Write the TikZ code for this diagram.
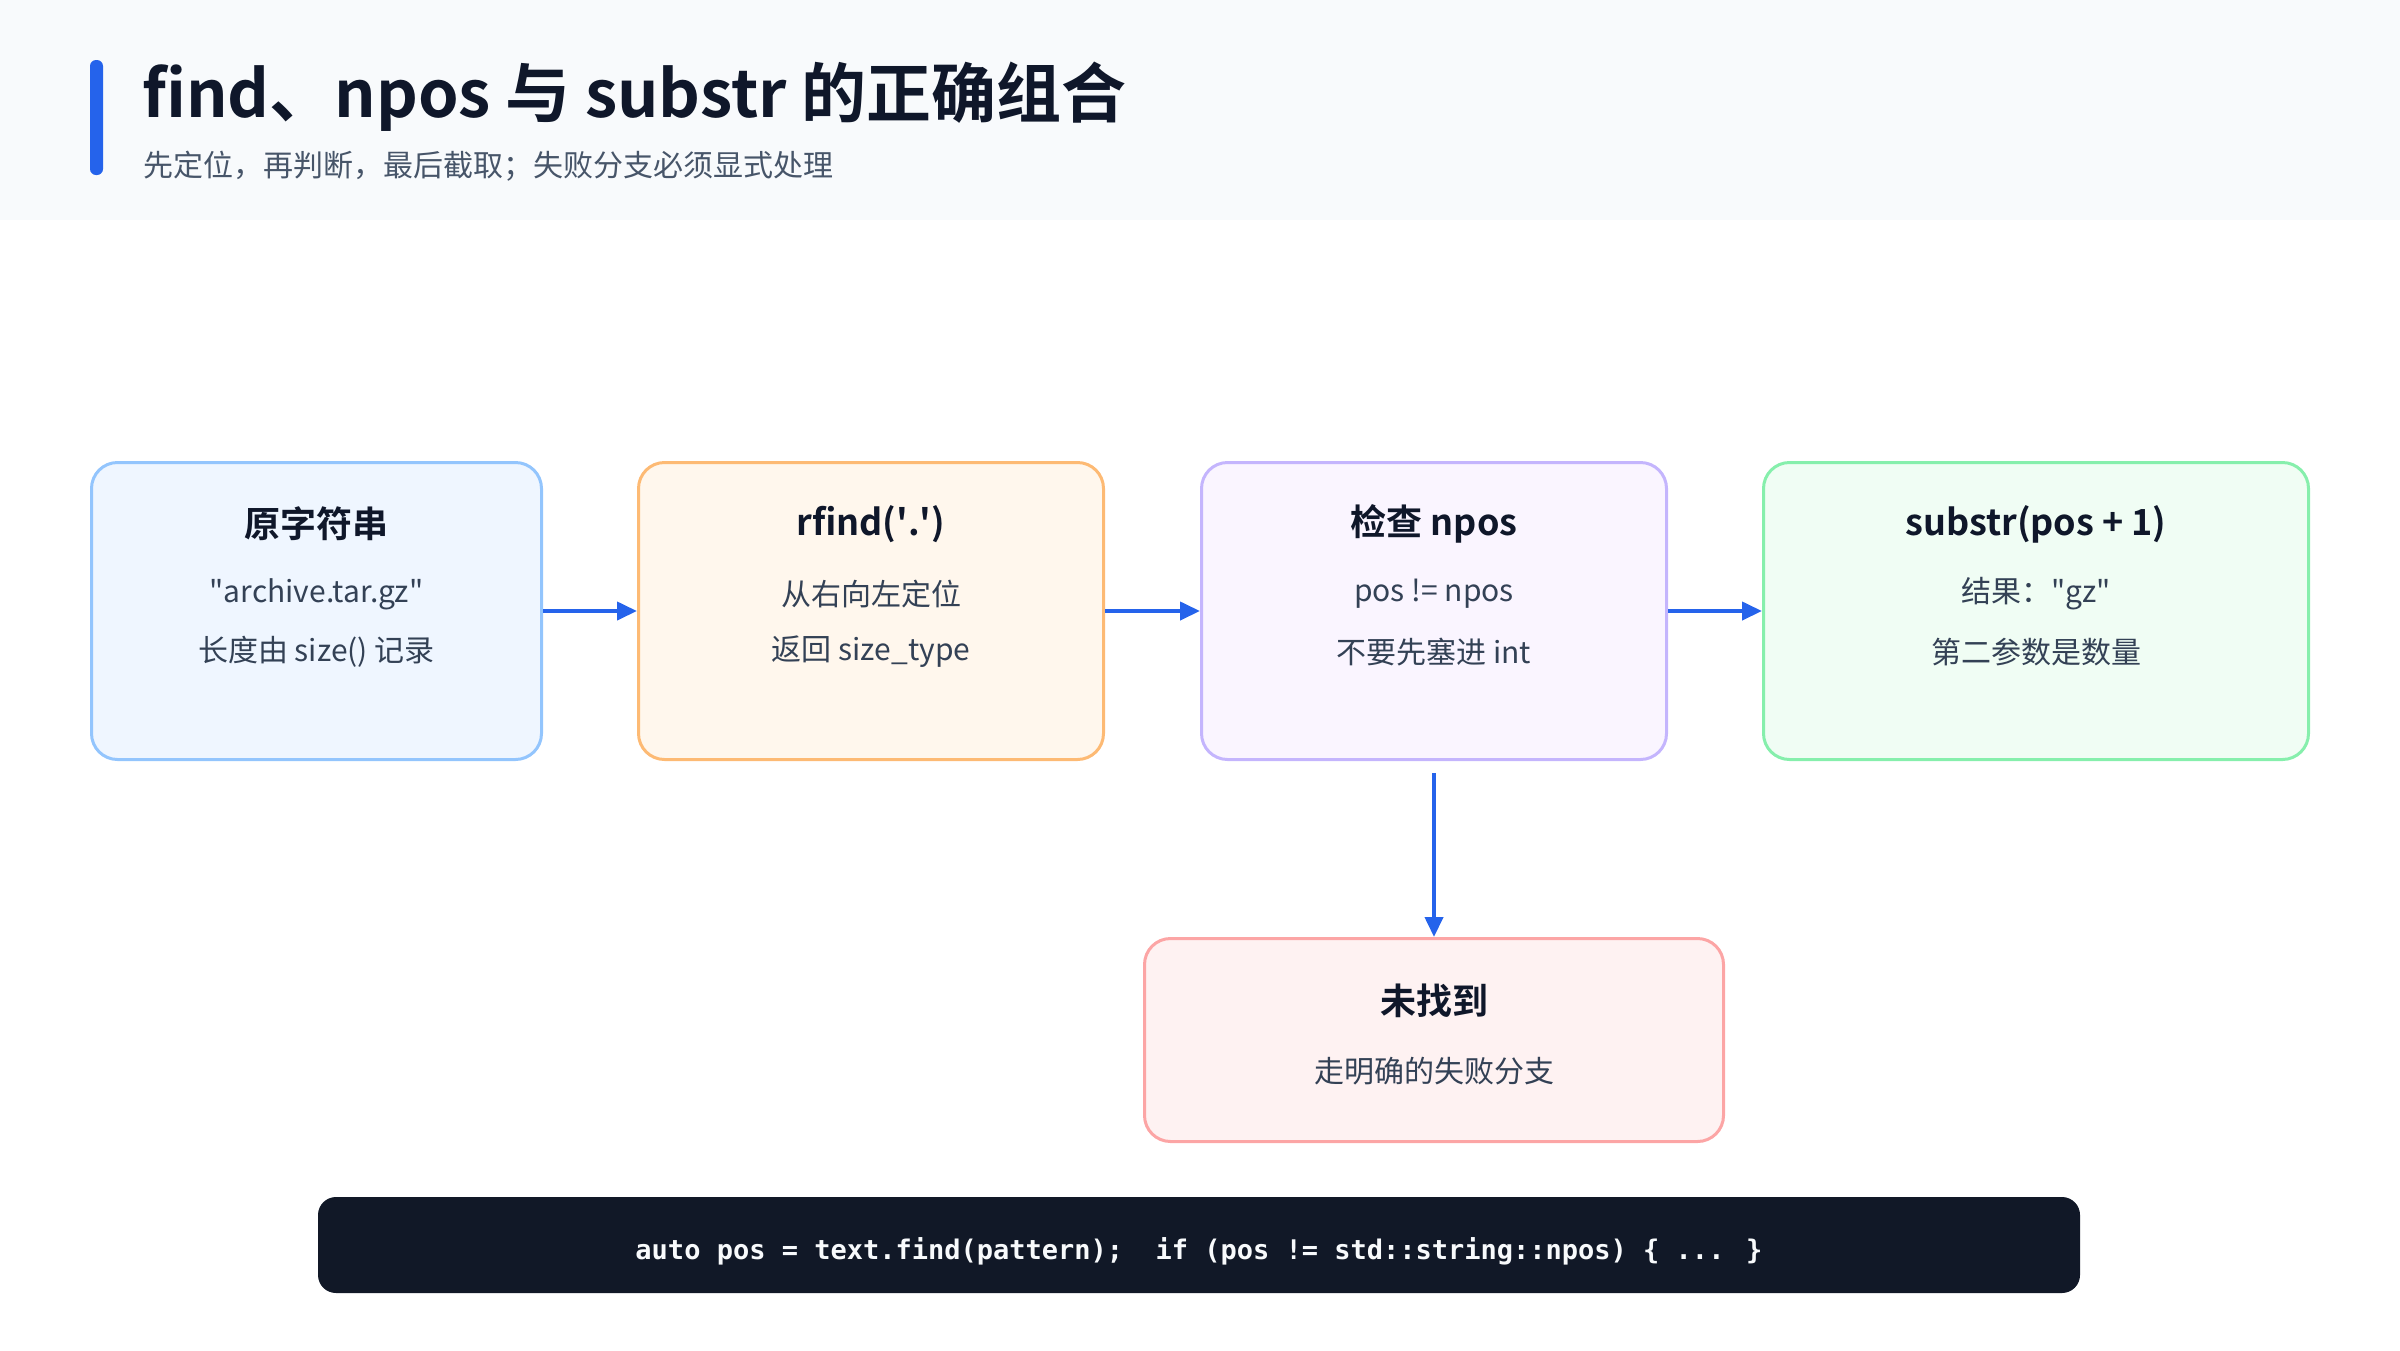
\documentclass[tikz,border=0pt]{standalone}
\usepackage{fontspec}
\setmainfont{Noto Sans CJK SC}[BoldFont={Noto Sans CJK SC Bold}]
\newfontfamily\codefont{DejaVu Sans Mono}
\usetikzlibrary{arrows.meta}

\definecolor{accent}{HTML}{2563EB}
\definecolor{ink}{HTML}{0F172A}
\definecolor{slate}{HTML}{334155}
\definecolor{subgray}{HTML}{475569}
\definecolor{headbg}{HTML}{F8FAFC}
\definecolor{codebg}{HTML}{111827}
\definecolor{blueline}{HTML}{93C5FD}
\definecolor{bluefill}{HTML}{EFF6FF}
\definecolor{orangeline}{HTML}{FDBA74}
\definecolor{orangefill}{HTML}{FFF7ED}
\definecolor{purpleline}{HTML}{C4B5FD}
\definecolor{purplefill}{HTML}{FAF5FF}
\definecolor{greenline}{HTML}{86EFAC}
\definecolor{greenfill}{HTML}{F0FDF4}
\definecolor{redline}{HTML}{FCA5A5}
\definecolor{redfill}{HTML}{FEF2F2}

\newcommand{\dq}{\textquotedbl}
\newcommand{\sq}{\textquotesingle}

\tikzset{
  card/.style={draw, line width=3pt, rounded corners=26pt, minimum height=297pt, inner sep=0pt},
  head/.style={font=\fontsize{36}{40}\selectfont\bfseries, text=ink, inner sep=0pt},
  body/.style={font=\fontsize{30}{34}\selectfont, text=slate, inner sep=0pt},
  flow/.style={draw=accent, line width=4pt, -{Triangle[length=20pt,width=18pt]}},
}

\begin{document}
\begin{tikzpicture}[x=1pt, y=-1pt]
	\useasboundingbox (0,0) rectangle (2400,1350);
	% header
	\fill[headbg] (0,0) rectangle (2400,220);
	\fill[accent, rounded corners=6pt] (90,60) rectangle (103,175);
	\node [anchor=base west, inner sep=0pt, text=ink, font=\fontsize{65}{70}\selectfont\bfseries] (title) at (142,117) {find、npos 与 substr 的正确组合};
	\node [anchor=west, inner sep=0pt, text=subgray, font=\fontsize{30}{34}\selectfont] (subtitle) at (143,166) {先定位，再判断，最后截取；失败分支必须显式处理};

	% cards
	\node [card, draw=blueline, fill=bluefill, minimum width=450pt] (src) at (316.5,611) {};
	\node [card, draw=orangeline, fill=orangefill, minimum width=465pt] (rfind) at (871,611) {};
	\node [card, draw=purpleline, fill=purplefill, minimum width=465pt] (check) at (1434,611) {};
	\node [card, draw=greenline, fill=greenfill, minimum width=545pt] (sub) at (2036,611) {};
	\node [card, draw=redline, fill=redfill, minimum width=579pt, minimum height=203pt] (miss) at (1434,1040) {};

	\node [head] (srcH) at (316.5,524) {原字符串};
	\node [body] (srcA) at (316.5,594) {\dq archive.tar.gz\dq};
	\node [body] (srcB) at (316.5,652) {长度由 size() 记录};

	\node [head] (rfindH) at (871,524) {rfind(\sq.\sq)};
	\node [body] (rfindA) at (871,594) {从右向左定位};
	\node [body] (rfindB) at (871,652) {返回 size\_type};

	\node [head] (checkH) at (1434,524) {检查 npos};
	\node [body] (checkA) at (1434,594) {pos != npos};
	\node [body] (checkB) at (1434,652) {不要先塞进 int};

	\node [head] (subH) at (2036,524) {substr(pos + 1)};
	\node [body] (subA) at (2036,594) {结果：\dq gz\dq};
	\node [body] (subB) at (2036,652) {第二参数是数量};

	\node [head] (missH) at (1434,1001) {未找到};
	\node [body] (missA) at (1434,1071) {走明确的失败分支};

	% connectors
	\draw[flow] (src.east) -- (rfind.west);
	\draw[flow] (rfind.east) -- (check.west);
	\draw[flow] (check.east) -- (sub.west);
	\draw[flow, shorten <=12pt] (check.south) -- (miss.north);

	% code strip
	\node [fill=codebg, rounded corners=18pt, minimum width=1762pt, minimum height=96pt, inner sep=0pt] (code) at (1199,1245) {};
	\node [inner sep=0pt, text=headbg, font=\codefont\bfseries\fontsize{27}{30}\selectfont] (codeText) at (1199,1251)
		{auto pos = text.find(pattern);\ \ if (pos != std::string::npos) \{ ... \}};
\end{tikzpicture}
\end{document}
